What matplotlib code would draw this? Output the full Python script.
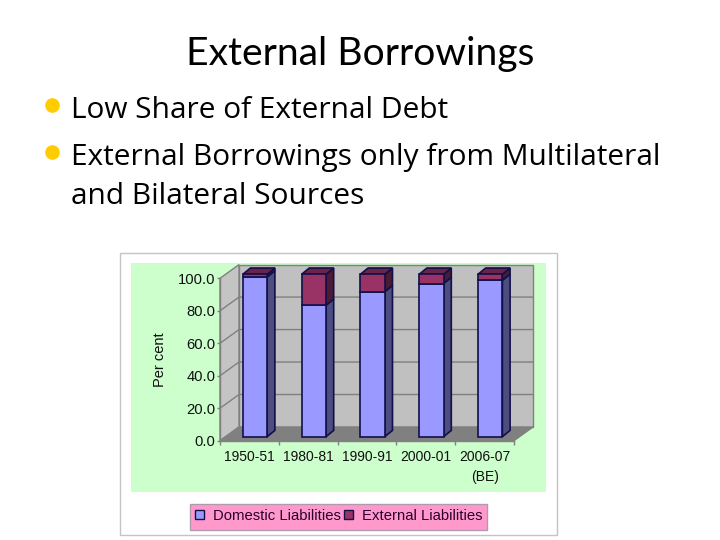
import matplotlib
matplotlib.use("Agg")
import matplotlib.pyplot as plt
from matplotlib.patches import Rectangle, Polygon, Patch
from matplotlib.lines import Line2D

# ---- data ----
categories = ["1950-51", "1980-81", "1990-91", "2000-01", "2006-07\n(BE)"]
domestic = [98.4, 80.9, 89.3, 94.3, 96.3]
external = [1.6, 19.1, 10.7, 5.7, 3.7]
yticks = [0, 20, 40, 60, 80, 100]
ylabel = "Per cent"
series_names = ["Domestic Liabilities", "External Liabilities"]
title = "External Borrowings"
bullets = ["Low Share of External Debt", "External Borrowings only from Multilateral"]
bullet_cont = "and Bilateral Sources"

W, H = 720, 540
fig = plt.figure(figsize=(W / 100, H / 100), dpi=100, facecolor="white")

def fx(x): return x / W
def fy(y): return 1 - y / H
def box(x0, y0, x1, y1, **kw):
    fig.add_artist(Rectangle((fx(x0), fy(y1)), (x1 - x0) / W, (y1 - y0) / H,
                             transform=fig.transFigure, zorder=-1, **kw))

# slide text
fig.text(fx(360), fy(54), title, family="Lato", fontsize=28.1, ha="center", va="center", color="black")
body = dict(family="Open Sans", fontsize=21.5, ha="left", va="center", color="black")
fig.text(fx(71), fy(110.5), bullets[0], **body)
fig.text(fx(71), fy(158), bullets[1], **body)
fig.text(fx(71), fy(196), bullet_cont, **body)
for yb in (105, 152):
    fig.add_artist(Line2D([fx(52)], [fy(yb)], marker="o", ms=9.5, color="#ffcc00",
                          mec="#ffcc00", transform=fig.transFigure))

# chart frame and panel
box(120.5, 252.5, 557.5, 534.5, facecolor="white", edgecolor="#c4c4c4", lw=1)
box(131, 263, 546, 492, facecolor="#ccffcc", edgecolor="none")

# plot axes: front plane of the 3D box
L, R, B, T = 220, 514, 440.7, 278.3
ax = fig.add_axes([fx(L), fy(B), (R - L) / W, (B - T) / H])
ax.patch.set_visible(False)
ax.set_xlim(0, len(categories))
ax.set_ylim(0, 100)
DX, DY = 19 / 58.8, 13.7 / 1.624     # full depth, in data units
bdx, bdy = 7.7 / 58.8, 6.3 / 1.624   # bar depth
bw = 24.4 / 58.8
n = len(categories)
edge = "#10104a"
gridc = "#808080"

# walls and floor
ax.add_patch(Polygon([(DX, DY), (n + DX, DY), (n + DX, 100 + DY), (DX, 100 + DY)],
                     fc="#c0c0c0", ec=gridc, lw=1, clip_on=False, zorder=1))
ax.add_patch(Polygon([(0, 0), (DX, DY), (DX, 100 + DY), (0, 100)],
                     fc="#c4c4c4", ec=gridc, lw=1, clip_on=False, zorder=1))
ax.add_patch(Polygon([(0, 0), (n, 0), (n + DX, DY), (DX, DY)],
                     fc="#808080", ec=gridc, lw=1, clip_on=False, zorder=1))
for t in yticks[1:-1]:
    ax.plot([0, DX, n + DX], [t, t + DY, t + DY], color=gridc, lw=1, clip_on=False, zorder=1.5)

# bars
x0 = [i + 0.5 + 0.095 for i in range(n)]
base = 2.46
d_bottom = [base] * n
e_bottom = [base + d for d in domestic]
ax.bar(x0, domestic, bw, bottom=d_bottom, color="#9999ff", edgecolor=edge, lw=1.2, zorder=4, clip_on=False)
ax.bar(x0, external, bw, bottom=e_bottom, color="#993366", edgecolor=edge, lw=1.2, zorder=4, clip_on=False)
for x, d, e, b2 in zip(x0, domestic, external, e_bottom):
    r = x + bw / 2
    l = x - bw / 2
    top = b2 + e
    ax.add_patch(Polygon([(r, base), (r + bdx, base + bdy), (r + bdx, b2 + bdy), (r, b2)],
                         fc="#4d4d80", ec=edge, lw=1.2, clip_on=False, zorder=3))
    ax.add_patch(Polygon([(r, b2), (r + bdx, b2 + bdy), (r + bdx, top + bdy), (r, top)],
                         fc="#4d1a33", ec=edge, lw=1.2, clip_on=False, zorder=3))
    ax.add_patch(Polygon([(l, top), (r, top), (r + bdx, top + bdy), (l + bdx, top + bdy)],
                         fc="#6b2447", ec=edge, lw=1.2, clip_on=False, zorder=3))

# axes
for s in ("top", "right"):
    ax.spines[s].set_visible(False)
for s in ("left", "bottom"):
    ax.spines[s].set_color(gridc)
    ax.spines[s].set_linewidth(1)
    ax.spines[s].set_zorder(2)
chart_font = "Liberation Sans"
ax.set_yticks(yticks)
ax.set_yticklabels([f"{t:.1f}" for t in yticks], family=chart_font, fontsize=10.6, color="#101010")
ax.set_xticks(range(n + 1))
ax.set_xticklabels([""] * (n + 1))
ax.tick_params(axis="y", color=gridc, length=2.5, width=1, pad=1)
ax.tick_params(axis="x", color=gridc, length=3, width=1, pad=2)
for i, c in enumerate(categories):
    ax.annotate(c, (i + 0.5, 0), xytext=(0, -7), textcoords="offset points",
                ha="center", va="top", family=chart_font, fontsize=10, color="#101010",
                linespacing=1.5)
fig.text(fx(160), fy(360), ylabel, rotation=90, family=chart_font, fontsize=10.5,
         ha="center", va="center", color="#101010")

# legend
box(190, 504, 487, 530, facecolor="#ff99cc", edgecolor="#b09ab0", lw=1)
handles = [Patch(fc="#9999ff", ec=edge, lw=1), Patch(fc="#993366", ec=edge, lw=1)]
leg = fig.legend(handles, series_names, ncol=2, frameon=False, loc="center",
                 bbox_to_anchor=(fx(338.5), fy(516)), prop={"family": chart_font, "size": 10.7},
                 handlelength=0.6, handleheight=0.6, handletextpad=0.6, columnspacing=0.2,
                 borderpad=0, labelcolor="#2a0030")
leg.set_zorder(5)

fig.savefig("out.png", dpi=100)
